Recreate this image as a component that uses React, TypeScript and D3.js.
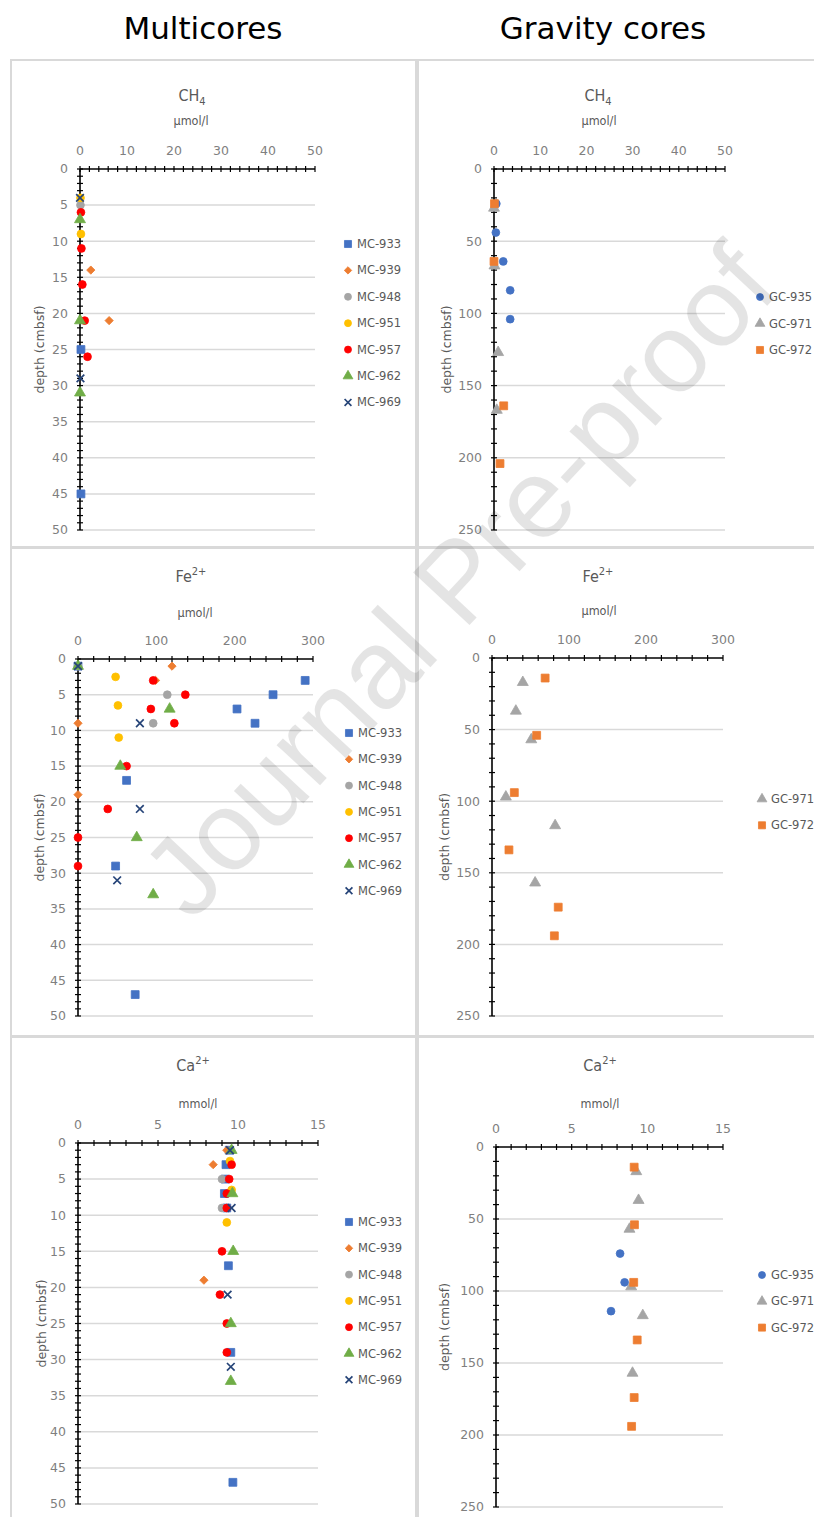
import React from 'react';
import * as d3 from 'd3';

const W = 814;
const H = 1517;

// ---- data: [concentration, depth (cmbsf)] ----

// CH4, multicores (µmol/l)
const ch4Mc933 = [[0.2, 25], [0.2, 45]];
const ch4Mc939 = [[2.3, 14], [6.2, 21]];
const ch4Mc948 = [[0.1, 5]];
const ch4Mc951 = [[0.1, 4], [0.2, 9]];
const ch4Mc957 = [[0.2, 6], [0.3, 11], [0.5, 16], [1.0, 21], [1.6, 26]];
const ch4Mc962 = [[0, 7], [0, 21], [0, 31]];
const ch4Mc969 = [[0, 4], [0.1, 29]];

// CH4, gravity cores (µmol/l)
const ch4Gc935 = [[0.5, 24], [0.4, 44], [2.0, 64], [3.5, 84], [3.5, 104]];
const ch4Gc971 = [[0, 27], [0.1, 67], [0.9, 127], [0.6, 167]];
const ch4Gc972 = [[0.1, 24], [0, 64], [2.1, 164], [1.3, 204]];

// Fe2+, multicores (µmol/l)
const feMc933 = [[0, 1], [290, 3], [249, 5], [203, 7], [226, 9], [62, 17], [48, 29], [73, 47]];
const feMc939 = [[120, 1], [99, 3], [0, 9], [0, 19]];
const feMc948 = [[0, 1], [114, 5], [96, 9]];
const feMc951 = [[48, 2.5], [51, 6.5], [52, 11]];
const feMc957 = [[96, 3], [137, 5], [93, 7], [123, 9], [62, 15], [38, 21], [0, 25], [0, 29]];
const feMc962 = [[0, 1], [117, 7], [54, 15], [75, 25], [96, 33]];
const feMc969 = [[0, 1], [79, 9], [79, 21], [50, 31]];

// Fe2+, gravity cores (µmol/l)
const feGc971 = [[40, 17], [31, 37], [51, 57], [18, 97], [82, 117], [56, 157]];
const feGc972 = [[69, 14], [58, 54], [29, 94], [22, 134], [86, 174], [81, 194]];

// Ca2+, multicores (mmol/l)
const caMc933 = [[9.45, 1], [9.25, 3], [9.2, 5], [9.15, 7], [9.3, 9], [9.4, 17], [9.55, 29], [9.68, 47]];
const caMc939 = [[9.3, 1], [8.45, 3], [7.87, 19]];
const caMc948 = [[9.0, 5], [9.0, 9]];
const caMc951 = [[9.5, 2.5], [9.6, 6.5], [9.3, 11]];
const caMc957 = [[9.6, 3], [9.45, 5], [9.3, 7], [9.3, 9], [9.0, 15], [8.87, 21], [9.3, 25], [9.3, 29]];
const caMc962 = [[9.6, 1], [9.65, 7], [9.7, 15], [9.55, 25], [9.55, 33]];
const caMc969 = [[9.5, 1], [9.6, 9], [9.35, 21], [9.55, 31]];

// Ca2+, gravity cores (mmol/l)
const caGc935 = [[8.2, 74], [8.5, 94], [7.6, 114]];
const caGc971 = [[9.27, 17], [9.42, 37], [8.82, 57], [8.93, 97], [9.7, 117], [9.02, 157]];
const caGc972 = [[9.13, 14], [9.15, 54], [9.1, 94], [9.33, 134], [9.13, 174], [8.96, 194]];

// ---- marker styles per core ----
const STYLE = {
  'MC-933': { color: '#4472C4', shape: 'square' },
  'MC-939': { color: '#ED7D31', shape: 'diamond' },
  'MC-948': { color: '#A5A5A5', shape: 'circle' },
  'MC-951': { color: '#FFC000', shape: 'circle' },
  'MC-957': { color: '#FF0000', shape: 'circle' },
  'MC-962': { color: '#70AD47', shape: 'triangle' },
  'MC-969': { color: '#264478', shape: 'x' },
  'GC-935': { color: '#4472C4', shape: 'circle' },
  'GC-971': { color: '#A5A5A5', shape: 'triangle' },
  'GC-972': { color: '#ED7D31', shape: 'square' },
};

const hasTimes = !!(d3 as any).symbolTimes;

// diamond = square turned by 45°
const SYMBOLS = {
  square: { type: d3.symbolSquare, size: 62, rot: 0 },
  diamond: { type: d3.symbolSquare, size: 34, rot: 45 },
  circle: { type: d3.symbolCircle, size: 48, rot: 0 },
  triangle: { type: d3.symbolTriangle, size: 52, rot: 0 },
  x: { type: hasTimes ? (d3 as any).symbolTimes : d3.symbolCross, size: 40, rot: hasTimes ? 0 : 45 },
};

const markerPath = (shape, scale = 1) =>
  d3.symbol().type(SYMBOLS[shape].type).size(SYMBOLS[shape].size * scale)();

const panels = [
  {
    frame: [11, 60, 405, 487], plot: { l: 80, r: 315, t: 169, b: 530 },
    xMax: 50, xMajor: 10, xMinor: 2, yMax: 50, yMajor: 5, yMinor: 1,
    title: ['CH', '4', 'sub'], titlePos: [192, 101], unit: 'µmol/l', unitPos: [191, 125],
    yTitleX: 40, legend: { x: 348, y: 244, step: 26.4 },
    series: [['MC-933', ch4Mc933], ['MC-939', ch4Mc939], ['MC-948', ch4Mc948], ['MC-951', ch4Mc951],
      ['MC-957', ch4Mc957], ['MC-962', ch4Mc962], ['MC-969', ch4Mc969]],
  },
  {
    frame: [418, 60, 400, 487], plot: { l: 494, r: 725, t: 169, b: 530 },
    xMax: 50, xMajor: 10, xMinor: 2, yMax: 250, yMajor: 50, yMinor: 10,
    title: ['CH', '4', 'sub'], titlePos: [598, 101], unit: 'µmol/l', unitPos: [599, 125],
    yTitleX: 447, legend: { x: 760, y: 297, step: 26.5 },
    series: [['GC-935', ch4Gc935], ['GC-971', ch4Gc971], ['GC-972', ch4Gc972]],
  },
  {
    frame: [11, 548, 405, 488], plot: { l: 78, r: 313, t: 659, b: 1016 },
    xMax: 300, xMajor: 100, xMinor: 20, yMax: 50, yMajor: 5, yMinor: 1,
    title: ['Fe', '2+', 'sup'], titlePos: [191, 582], unit: 'µmol/l', unitPos: [195, 617],
    yTitleX: 40, legend: { x: 349, y: 733, step: 26.3 },
    series: [['MC-933', feMc933], ['MC-939', feMc939], ['MC-948', feMc948], ['MC-951', feMc951],
      ['MC-957', feMc957], ['MC-962', feMc962], ['MC-969', feMc969]],
  },
  {
    frame: [418, 548, 400, 488], plot: { l: 492, r: 723, t: 658, b: 1016 },
    xMax: 300, xMajor: 100, xMinor: 20, yMax: 250, yMajor: 50, yMinor: 10,
    title: ['Fe', '2+', 'sup'], titlePos: [598, 582], unit: 'µmol/l', unitPos: [599, 615],
    yTitleX: 445, legend: { x: 762, y: 799, step: 26.3 },
    series: [['GC-971', feGc971], ['GC-972', feGc972]],
  },
  {
    frame: [11, 1037, 405, 490], plot: { l: 78, r: 318, t: 1143, b: 1504 },
    xMax: 15, xMajor: 5, xMinor: 1, yMax: 50, yMajor: 5, yMinor: 1,
    title: ['Ca', '2+', 'sup'], titlePos: [193, 1071], unit: 'mmol/l', unitPos: [198, 1108],
    yTitleX: 42, legend: { x: 349, y: 1222, step: 26.3 },
    series: [['MC-933', caMc933], ['MC-939', caMc939], ['MC-948', caMc948], ['MC-951', caMc951],
      ['MC-957', caMc957], ['MC-962', caMc962], ['MC-969', caMc969]],
  },
  {
    frame: [418, 1037, 400, 490], plot: { l: 496, r: 723, t: 1147, b: 1507 },
    xMax: 15, xMajor: 5, xMinor: 1, yMax: 250, yMajor: 50, yMinor: 10,
    title: ['Ca', '2+', 'sup'], titlePos: [600, 1071], unit: 'mmol/l', unitPos: [600, 1108],
    yTitleX: 445, legend: { x: 762, y: 1275, step: 26.3 },
    series: [['GC-935', caGc935], ['GC-971', caGc971], ['GC-972', caGc972]],
  },
];

const LABEL = '#7f7f7f';
const TEXT = '#595959';
const GRID = '#d9d9d9';
const FONT = 'DejaVu Sans, Verdana, sans-serif';
const COND = 'DejaVu Sans Condensed, DejaVu Sans, sans-serif';

const Marker = ({ shape, color, x, y, scale = 1 }) => {
  const isX = shape === 'x';
  const rot = SYMBOLS[shape].rot;
  return (
    <path
      d={markerPath(shape, scale)}
      transform={`translate(${x},${y})${rot ? ` rotate(${rot})` : ''}`}
      fill={isX ? 'none' : color}
      stroke={color}
      strokeWidth={isX ? 1.7 : 0.8}
    />
  );
};

const Panel = ({ p }) => {
  const { l, r, t, b } = p.plot;
  const x = d3.scaleLinear().domain([0, p.xMax]).range([l, r]);
  const y = d3.scaleLinear().domain([0, p.yMax]).range([t, b]);
  const xMajor = d3.range(0, p.xMax + 1e-9, p.xMajor);
  const xMinor = d3.range(0, p.xMax + 1e-9, p.xMinor);
  const yMajor = d3.range(0, p.yMax + 1e-9, p.yMajor);
  const yMinor = d3.range(0, p.yMax + 1e-9, p.yMinor);
  const [fx, fy, fw, fh] = p.frame;

  return (
    <g>
      <rect x={fx} y={fy} width={fw} height={fh} fill="#fff" stroke={GRID} strokeWidth={2} />

      {/* title */}
      <text x={p.titlePos[0]} y={p.titlePos[1]} textAnchor="middle" fontFamily={COND}
        fontSize={16} fill={TEXT}>
        {p.title[0]}
        <tspan fontSize={11} dy={p.title[2] === 'sub' ? 4 : -7}>{p.title[1]}</tspan>
      </text>
      <text x={p.unitPos[0]} y={p.unitPos[1]} textAnchor="middle" fontFamily={COND}
        fontSize={12.5} fill={TEXT}>{p.unit}</text>

      {/* gridlines */}
      {yMajor.filter(v => v > 0).map(v => (
        <line key={'g' + v} x1={l} x2={r} y1={y(v)} y2={y(v)} stroke={GRID} strokeWidth={1.5} />
      ))}

      {/* axes */}
      <line x1={l} x2={r} y1={t} y2={t} stroke="#000" strokeWidth={1.6} />
      <line x1={l} x2={l} y1={t} y2={b} stroke="#000" strokeWidth={1.6} />
      {xMinor.map(v => (
        <line key={'xt' + v} x1={x(v)} x2={x(v)} y1={t - 3} y2={t + 3} stroke="#000" strokeWidth={1.2} />
      ))}
      {yMinor.map(v => (
        <line key={'yt' + v} x1={l - 3} x2={l + 3} y1={y(v)} y2={y(v)} stroke="#000" strokeWidth={1.2} />
      ))}
      {xMajor.map(v => (
        <text key={'xl' + v} x={x(v)} y={t - 14} textAnchor="middle" fontFamily={FONT}
          fontSize={12.5} fill={LABEL}>{v}</text>
      ))}
      {yMajor.map(v => (
        <text key={'yl' + v} x={l - 12} y={y(v)} dy="0.35em" textAnchor="end" fontFamily={FONT}
          fontSize={12.5} fill={LABEL}>{v}</text>
      ))}
      <text transform={`translate(${p.yTitleX},${(t + b) / 2}) rotate(-90)`} dy="0.35em"
        textAnchor="middle" fontFamily={FONT} fontSize={12.5} fill={TEXT}>depth (cmbsf)</text>

      {/* points */}
      {p.series.map(([name, pts]) => (
        <g key={name}>
          {pts.map((d, i) => (
            <Marker key={i} shape={STYLE[name].shape} color={STYLE[name].color} x={x(d[0])} y={y(d[1])} />
          ))}
        </g>
      ))}

      {/* legend */}
      {p.series.map(([name], i) => (
        <g key={'lg' + name} transform={`translate(${p.legend.x},${p.legend.y + i * p.legend.step})`}>
          <Marker shape={STYLE[name].shape} color={STYLE[name].color} x={0} y={0} scale={0.8} />
          <text x={9} dy="0.35em" fontFamily={FONT} fontSize={11.5} fill={TEXT}>{name}</text>
        </g>
      ))}
    </g>
  );
};

export default function App() {
  return (
    <svg width={W} height={H} style={{ position: 'absolute', left: 0, top: 0, background: '#fff' }}>
      <rect width={W} height={H} fill="#fff" />
      <text x={203} y={39} textAnchor="middle" fontFamily={FONT} fontSize={31} fill="#000">Multicores</text>
      <text x={603} y={39} textAnchor="middle" fontFamily={FONT} fontSize={31} fill="#000">Gravity cores</text>
      {panels.map((p, i) => <Panel key={i} p={p} />)}
      <text transform="translate(458,580) rotate(-47)" textAnchor="middle" dy="0.35em"
        fontFamily="Liberation Sans, Arial, sans-serif" fontSize={112} fill="#000" opacity={0.1}>
        Journal Pre-proof
      </text>
    </svg>
  );
}
